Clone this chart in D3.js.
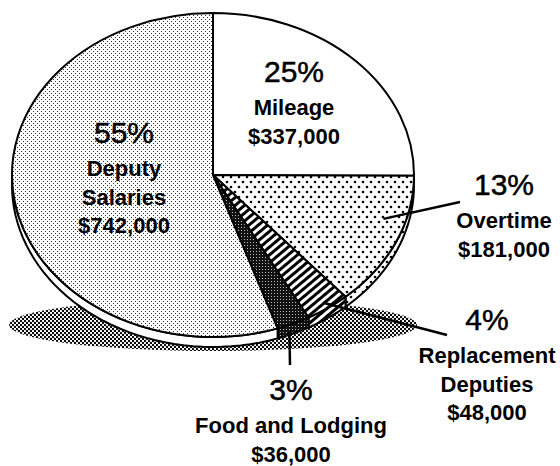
<!DOCTYPE html>
<html>
<head>
<meta charset="utf-8">
<script src="https://cdn.jsdelivr.net/npm/d3@7"></script>
<style>
  body { margin: 0; background: #fff; }
  svg { display: block; font-family: "Liberation Sans", Arial, Helvetica, sans-serif; }
  .pct { font-size: 30px; stroke: #000; stroke-width: 0.5px; }
  .lbl { font-size: 22px; font-weight: bold; }
</style>
</head>
<body>
<div id="chart"></div>
<script>
// budget categories, in pie order (clockwise from 12 o'clock)
const categories = ["Mileage", "Overtime", "Replacement Deputies", "Food and Lodging", "Deputy Salaries"];
const labelLines = [["Mileage"], ["Overtime"], ["Replacement", "Deputies"], ["Food and Lodging"], ["Deputy", "Salaries"]];
const amounts = [337000, 181000, 48000, 36000, 742000];
const percents = [25, 13, 4, 3, 55];

const width = 560, height = 466;
// tilted pie: circle of radius rx squashed vertically to ry
const cx = 213, cy = 175, rx = 201, ry = 162, depth = 10;
const k = ry / rx;

// label placement (x centre, baseline of the percent line)
const labelPos = [
  {x: 294, y: 82},
  {x: 504, y: 195},
  {x: 487, y: 330},
  {x: 291, y: 400},
  {x: 124, y: 143}
];
// leader lines: start inside slice (t = fraction across slice angle, r = fraction of radius), end in px
const leaders = [
  null,
  {t: 0.36, r: 0.89, x: 460, y: 202},
  {t: 0.5, r: 0.96, x: 447, y: 335},
  {t: 0.72, r: 1.04, x: 290, y: 365},
  null
];

const svg = d3.select("#chart").append("svg")
  .attr("width", width)
  .attr("height", height)
  .attr("viewBox", [0, 0, width, height]);

const defs = svg.append("defs");
// patterns used inside the squashed group get an inverse scale so they look square on screen
const comp = `scale(1,${1 / k})`;

const light = defs.append("pattern").attr("id", "light")
  .attr("patternUnits", "userSpaceOnUse").attr("width", 4).attr("height", 4)
  .attr("patternTransform", comp);
light.append("rect").attr("width", 4).attr("height", 4).attr("fill", "#fff");
light.append("rect").attr("x", 0).attr("y", 0).attr("width", 1).attr("height", 1).attr("fill", "#333");
light.append("rect").attr("x", 2).attr("y", 2).attr("width", 1).attr("height", 1).attr("fill", "#333");

const dots = defs.append("pattern").attr("id", "dots")
  .attr("patternUnits", "userSpaceOnUse").attr("width", 8).attr("height", 10)
  .attr("patternTransform", comp);
dots.append("rect").attr("width", 8).attr("height", 10).attr("fill", "#fff");
dots.append("circle").attr("cx", 2).attr("cy", 2).attr("r", 1.3).attr("fill", "#000");
dots.append("circle").attr("cx", 6).attr("cy", 7).attr("r", 1.3).attr("fill", "#000");

const stripes = defs.append("pattern").attr("id", "stripes")
  .attr("patternUnits", "userSpaceOnUse").attr("width", 6).attr("height", 6)
  .attr("patternTransform", comp + " rotate(-40)");
stripes.append("rect").attr("width", 6).attr("height", 6).attr("fill", "#fff");
stripes.append("rect").attr("width", 6).attr("height", 3).attr("fill", "#000");

const dark = defs.append("pattern").attr("id", "dark")
  .attr("patternUnits", "userSpaceOnUse").attr("width", 3).attr("height", 3)
  .attr("patternTransform", comp);
dark.append("rect").attr("width", 3).attr("height", 3).attr("fill", "#111");
dark.append("rect").attr("x", 1).attr("y", 1).attr("width", 1).attr("height", 1).attr("fill", "#bbb");

const shade = defs.append("pattern").attr("id", "shade")
  .attr("patternUnits", "userSpaceOnUse").attr("width", 4).attr("height", 4);
shade.append("rect").attr("width", 4).attr("height", 4).attr("fill", "#fff");
shade.append("circle").attr("cx", 1).attr("cy", 1).attr("r", 1.15).attr("fill", "#000");
shade.append("circle").attr("cx", 3).attr("cy", 3).attr("r", 1.15).attr("fill", "#000");

const topFill = ["#fff", "url(#dots)", "url(#stripes)", "url(#dark)", "url(#light)"];
const sideFill = ["#fff", "url(#dots)", "url(#stripes)", "url(#dark)", "#fff"];

// drop shadow under the pie
svg.append("ellipse")
  .attr("cx", cx).attr("cy", cy + 150)
  .attr("rx", rx + 3).attr("ry", 26)
  .attr("fill", "url(#shade)");

const pie = d3.pie().sort(null).value(d => d);
const arcs = pie(amounts);

const g = svg.append("g")
  .attr("transform", `translate(${cx},${cy}) scale(1,${k})`);

// side faces (only the front half, angles between 90 and 270 degrees)
const line = d3.line();
const lo = Math.PI / 2, hi = 3 * Math.PI / 2;
const drop = depth / k;
arcs.forEach((a, i) => {
  const a0 = Math.max(a.startAngle, lo), a1 = Math.min(a.endAngle, hi);
  if (a1 <= a0) return;
  const n = 40;
  const angs = d3.range(n + 1).map(j => a0 + (a1 - a0) * j / n);
  const topPts = angs.map(t => [rx * Math.sin(t), -rx * Math.cos(t)]);
  const botPts = angs.slice().reverse().map(t => [rx * Math.sin(t), -rx * Math.cos(t) + drop]);
  g.append("path")
    .attr("d", line(topPts.concat(botPts)) + "Z")
    .attr("fill", sideFill[i])
    .attr("stroke", "#000")
    .attr("stroke-width", 2)
    .attr("stroke-linejoin", "round")
    .attr("vector-effect", "non-scaling-stroke");
});

const arc = d3.arc().innerRadius(0).outerRadius(rx);
g.selectAll("path.slice")
  .data(arcs)
  .join("path")
  .attr("class", "slice")
  .attr("d", arc)
  .attr("fill", (d, i) => topFill[i])
  .attr("stroke", "#000")
  .attr("stroke-width", 2)
  .attr("stroke-linejoin", "round")
  .attr("vector-effect", "non-scaling-stroke");

// leader lines
arcs.forEach((a, i) => {
  const L = leaders[i];
  if (!L) return;
  const ang = a.startAngle + (a.endAngle - a.startAngle) * L.t;
  const x0 = cx + rx * L.r * Math.sin(ang);
  const y0 = cy - ry * L.r * Math.cos(ang);
  svg.append("line")
    .attr("x1", x0).attr("y1", y0)
    .attr("x2", L.x).attr("y2", L.y)
    .attr("stroke", "#000")
    .attr("stroke-width", 2.5);
});

// labels
const fmt = d3.format("$,");
categories.forEach((c, i) => {
  const p = labelPos[i];
  const t = svg.append("text").attr("text-anchor", "middle").attr("fill", "#000");
  t.append("tspan").attr("class", "pct").attr("x", p.x).attr("y", p.y).text(percents[i] + "%");
  const lines = labelLines[i].concat([fmt(amounts[i])]);
  lines.forEach((s, j) => {
    t.append("tspan").attr("class", "lbl")
      .attr("x", p.x)
      .attr("y", p.y + 33 + j * 28.5)
      .text(s);
  });
});
</script>
</body>
</html>
